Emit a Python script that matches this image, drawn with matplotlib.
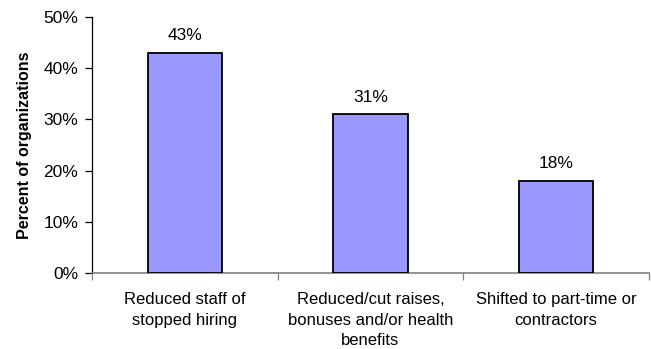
import matplotlib.pyplot as plt
import numpy as np

categories = ['Reduced staff of\nstopped hiring',
              'Reduced/cut raises,\nbonuses and/or health\nbenefits',
              'Shifted to part-time or\ncontractors']
percents = [43, 31, 18]
y_ticks = [0, 10, 20, 30, 40, 50]

plt.rcParams['font.family'] = ['Liberation Sans', 'DejaVu Sans']

fig = plt.figure(figsize=(6.51, 3.49), dpi=100)
ax = fig.add_axes([92 / 651, 1 - 273 / 349, 557 / 651, 256 / 349])

x = np.arange(len(categories))
bars = ax.bar(x, percents, width=0.4, color='#9999ff', edgecolor='black', linewidth=1.3, zorder=3)

for b, v in zip(bars, percents):
    ax.annotate('%d%%' % v, (b.get_x() + b.get_width() / 2, v), xytext=(0, 7),
                textcoords='offset points', ha='center', va='bottom', fontsize=12.5)

ax.set_xlim(-0.5, len(categories) - 0.5)
ax.set_ylim(0, 50)
ax.set_yticks(y_ticks)
ax.set_yticklabels(['%d%%' % t for t in y_ticks], fontsize=12.5)

# boundary ticks on the x axis, labels centred between them
ax.set_xticks(np.arange(len(categories) + 1) - 0.5)
ax.set_xticklabels([])
ax.set_xticks(x, minor=True)
ax.set_xticklabels(categories, minor=True, fontsize=12, linespacing=1.45, va='top')
ax.tick_params(axis='x', which='minor', length=0, pad=14)
ax.tick_params(axis='x', which='major', length=5, width=0.9, color='#808080')
ax.tick_params(axis='y', length=5, width=0.9, pad=5)

ax.spines['top'].set_visible(False)
ax.spines['right'].set_visible(False)
ax.spines['bottom'].set_color('#808080')
ax.spines['bottom'].set_linewidth(1.2)
ax.spines['left'].set_linewidth(0.9)

ax.set_ylabel('Percent of organizations', fontsize=11.5, fontweight='bold', labelpad=8)

fig.savefig('out.png', dpi=100)
